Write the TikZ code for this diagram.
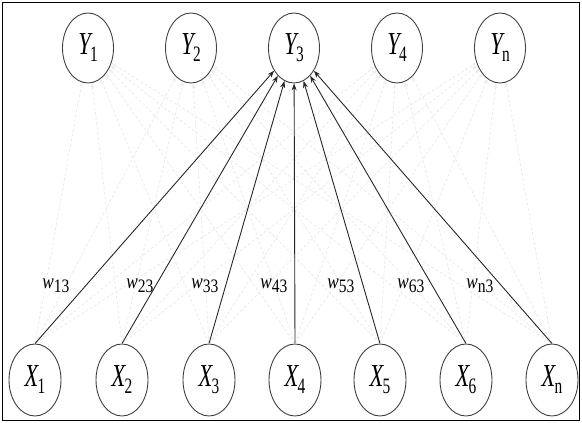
\documentclass[tikz,border=0pt]{standalone}
\usepackage{fontspec}
\setmainfont{Liberation Serif}
\usetikzlibrary{shapes.geometric,arrows.meta}
\newcommand{\bigvar}[2]{\scalebox{0.7}[1]{\fontsize{32}{32}\selectfont\itshape #1\kern-1pt\raisebox{-7pt}{\fontsize{22}{22}\selectfont\upshape #2}}}
\newcommand{\wlab}[1]{\scalebox{0.82}[1]{\fontsize{21}{21}\selectfont\itshape w\raisebox{-4pt}{\fontsize{19}{19}\selectfont\upshape #1}}}
\begin{document}
\begin{tikzpicture}[x=1pt,y=1pt,
  neuronY/.style={ellipse,draw=black!75,line width=0.9pt,minimum width=51pt,minimum height=70pt,inner sep=0pt},
  neuronX/.style={ellipse,draw=black!75,line width=0.9pt,minimum width=52pt,minimum height=72pt,inner sep=0pt},
  faint/.style={draw=black!8,line width=0.8pt,dash pattern=on 3pt off 2pt,-{Stealth[length=5pt,width=4pt]}},
  strong/.style={draw=black!85,line width=0.9pt,-{Stealth[length=7pt,width=5pt]}},
  wl/.style={inner sep=0pt}]
\useasboundingbox (0,0) rectangle (582,423);
\draw[line width=1.5pt] (2.5,2.5) rectangle (579.5,420.5);
\node[neuronY] (Y1) at (88,375) {\bigvar{Y}{1}};
\node[neuronY] (Y2) at (191,375) {\bigvar{Y}{2}};
\node[neuronY] (Y3) at (294,375) {\bigvar{Y}{3}};
\node[neuronY] (Y4) at (397,375) {\bigvar{Y}{4}};
\node[neuronY] (Yn) at (500,375) {\bigvar{Y}{n}};
\node[neuronX] (X1) at (35,43) {\bigvar{X}{1}};
\node[neuronX] (X2) at (122,43) {\bigvar{X}{2}};
\node[neuronX] (X3) at (209,43) {\bigvar{X}{3}};
\node[neuronX] (X4) at (295,43) {\bigvar{X}{4}};
\node[neuronX] (X5) at (380,43) {\bigvar{X}{5}};
\node[neuronX] (X6) at (466,43) {\bigvar{X}{6}};
\node[neuronX] (Xn) at (552,43) {\bigvar{X}{n}};
\foreach \x in {X1,X2,X3,X4,X5,X6,Xn}{
  \foreach \y in {Y1,Y2,Y4,Yn}{
    \draw[faint] (\x.north) -- (\y);
  }
}
\foreach \x in {X1,X2,X3,X4,X5,X6,Xn}{
  \draw[strong] (\x.north) -- (Y3);
}
\node[wl] (w1) at (56,137) {\wlab{13}};
\node[wl] (w2) at (140,137) {\wlab{23}};
\node[wl] (w3) at (205,137) {\wlab{33}};
\node[wl] (w4) at (274,137) {\wlab{43}};
\node[wl] (w5) at (341,137) {\wlab{53}};
\node[wl] (w6) at (411,137) {\wlab{63}};
\node[wl] (w7) at (480,137) {\wlab{n3}};
\end{tikzpicture}
\end{document}
